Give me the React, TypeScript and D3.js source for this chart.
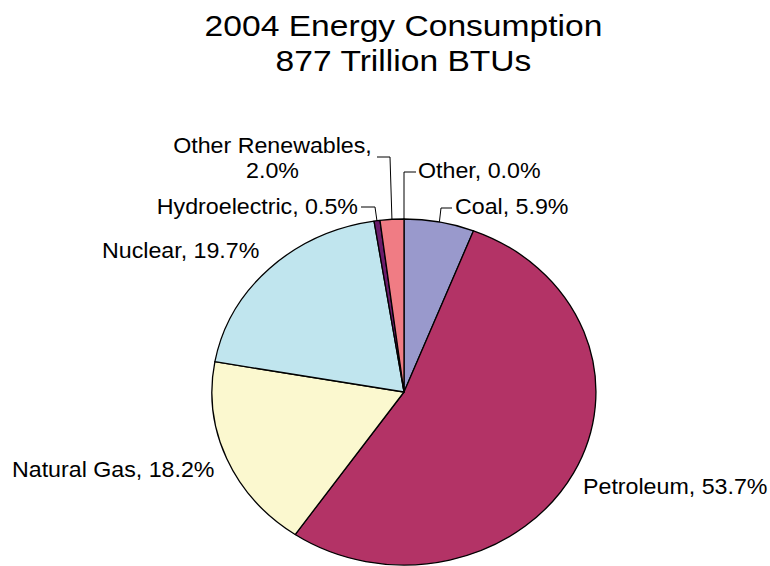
import React from "react";
import * as d3 from "d3";

const categories = ["Coal", "Petroleum", "Natural Gas", "Nuclear", "Hydroelectric", "Other Renewables", "Other"];
const shares = [5.9, 53.7, 18.2, 19.7, 0.5, 2.0, 0.0];
const colors = ["#9999CC", "#B33366", "#FBF8CF", "#C0E5EE", "#6B1C6B", "#F07C84", "#FFFFFF"];
const titleLines = ["2004 Energy Consumption", "877 Trillion BTUs"];

const W = 770;
const H = 566;
const CX = 404;
const CY = 392;
const RX = 192;
const RY = 173;
const SX_TITLE = 1.12;
const SX_LABEL = 1.08;
const FONT = "'Liberation Sans', Arial, Helvetica, sans-serif";
const LABEL_SIZE = 21.5;

type Layout = {
  lines: string[];
  anchor: "start" | "middle" | "end";
  x: number;
  y: number[];
  leader?: [number, number][];
};

const fmt = (v: number) => v.toFixed(1) + "%";

const layouts: Record<string, (label: string) => Layout> = {
  Coal: (l) => ({ lines: [l], anchor: "start", x: 455, y: [214], leader: [[441, 208], [452, 208]] }),
  Petroleum: (l) => ({ lines: [l], anchor: "start", x: 583, y: [494] }),
  "Natural Gas": (l) => ({ lines: [l], anchor: "start", x: 12, y: [477] }),
  Nuclear: (l) => ({ lines: [l], anchor: "start", x: 102, y: [258] }),
  Hydroelectric: (l) => ({ lines: [l], anchor: "end", x: 358, y: [214], leader: [[375, 207], [361, 207]] }),
  "Other Renewables": (l) => ({
    lines: [l.split(" ").slice(0, 2).join(" "), l.split(" ").slice(2).join(" ")],
    anchor: "middle",
    x: 272.5,
    y: [153, 178],
    leader: [[390, 157], [377, 157]],
  }),
  Other: (l) => ({ lines: [l], anchor: "start", x: 418, y: [178], leader: [[404, 172], [416, 172]] }),
};

export default function App() {
  const pie = d3
    .pie<number>()
    .sort(null)
    .value((d) => d)
    .startAngle(0)
    .endAngle(2 * Math.PI);
  const arcs = pie(shares);
  const arc = d3.arc<d3.PieArcDatum<number>>().innerRadius(0).outerRadius(1);

  return (
    <svg
      width={W}
      height={H}
      style={{ position: "absolute", left: 0, top: 0, background: "#fff" }}
      fontFamily={FONT}
    >
      <rect width={W} height={H} fill="#fff" />
      {titleLines.map((t, i) => (
        <text
          key={t}
          transform={`translate(403.5, ${35.5 + i * 35.5}) scale(${SX_TITLE},1)`}
          textAnchor="middle"
          fontSize={30}
          fill="#000"
        >
          {t}
        </text>
      ))}
      <g transform={`translate(${CX},${CY}) scale(${RX},${RY})`}>
        {arcs.map((a, i) =>
          a.value > 0 ? (
            <path
              key={categories[i]}
              d={arc(a) || ""}
              fill={colors[i]}
              stroke="#000"
              strokeWidth={1.3}
              vectorEffect="non-scaling-stroke"
              strokeLinejoin="round"
            />
          ) : null
        )}
      </g>
      {arcs.map((a, i) => {
        const name = categories[i];
        const label = `${name}, ${fmt(shares[i])}`;
        const lay = layouts[name](label);
        const mid = (a.startAngle + a.endAngle) / 2;
        const ex = CX + RX * Math.sin(mid);
        const ey = CY - RY * Math.cos(mid);
        const pts: [number, number][] = lay.leader ? [[ex, ey], ...lay.leader] : [];
        return (
          <g key={name}>
            {pts.length > 0 && (
              <polyline
                points={pts.map((p) => p.join(",")).join(" ")}
                fill="none"
                stroke="#000"
                strokeWidth={1}
              />
            )}
            {lay.lines.map((ln, j) => (
              <text
                key={j}
                transform={`translate(${lay.x},${lay.y[j]}) scale(${SX_LABEL},1)`}
                textAnchor={lay.anchor}
                fontSize={LABEL_SIZE}
                fill="#000"
              >
                {ln}
              </text>
            ))}
          </g>
        );
      })}
    </svg>
  );
}
